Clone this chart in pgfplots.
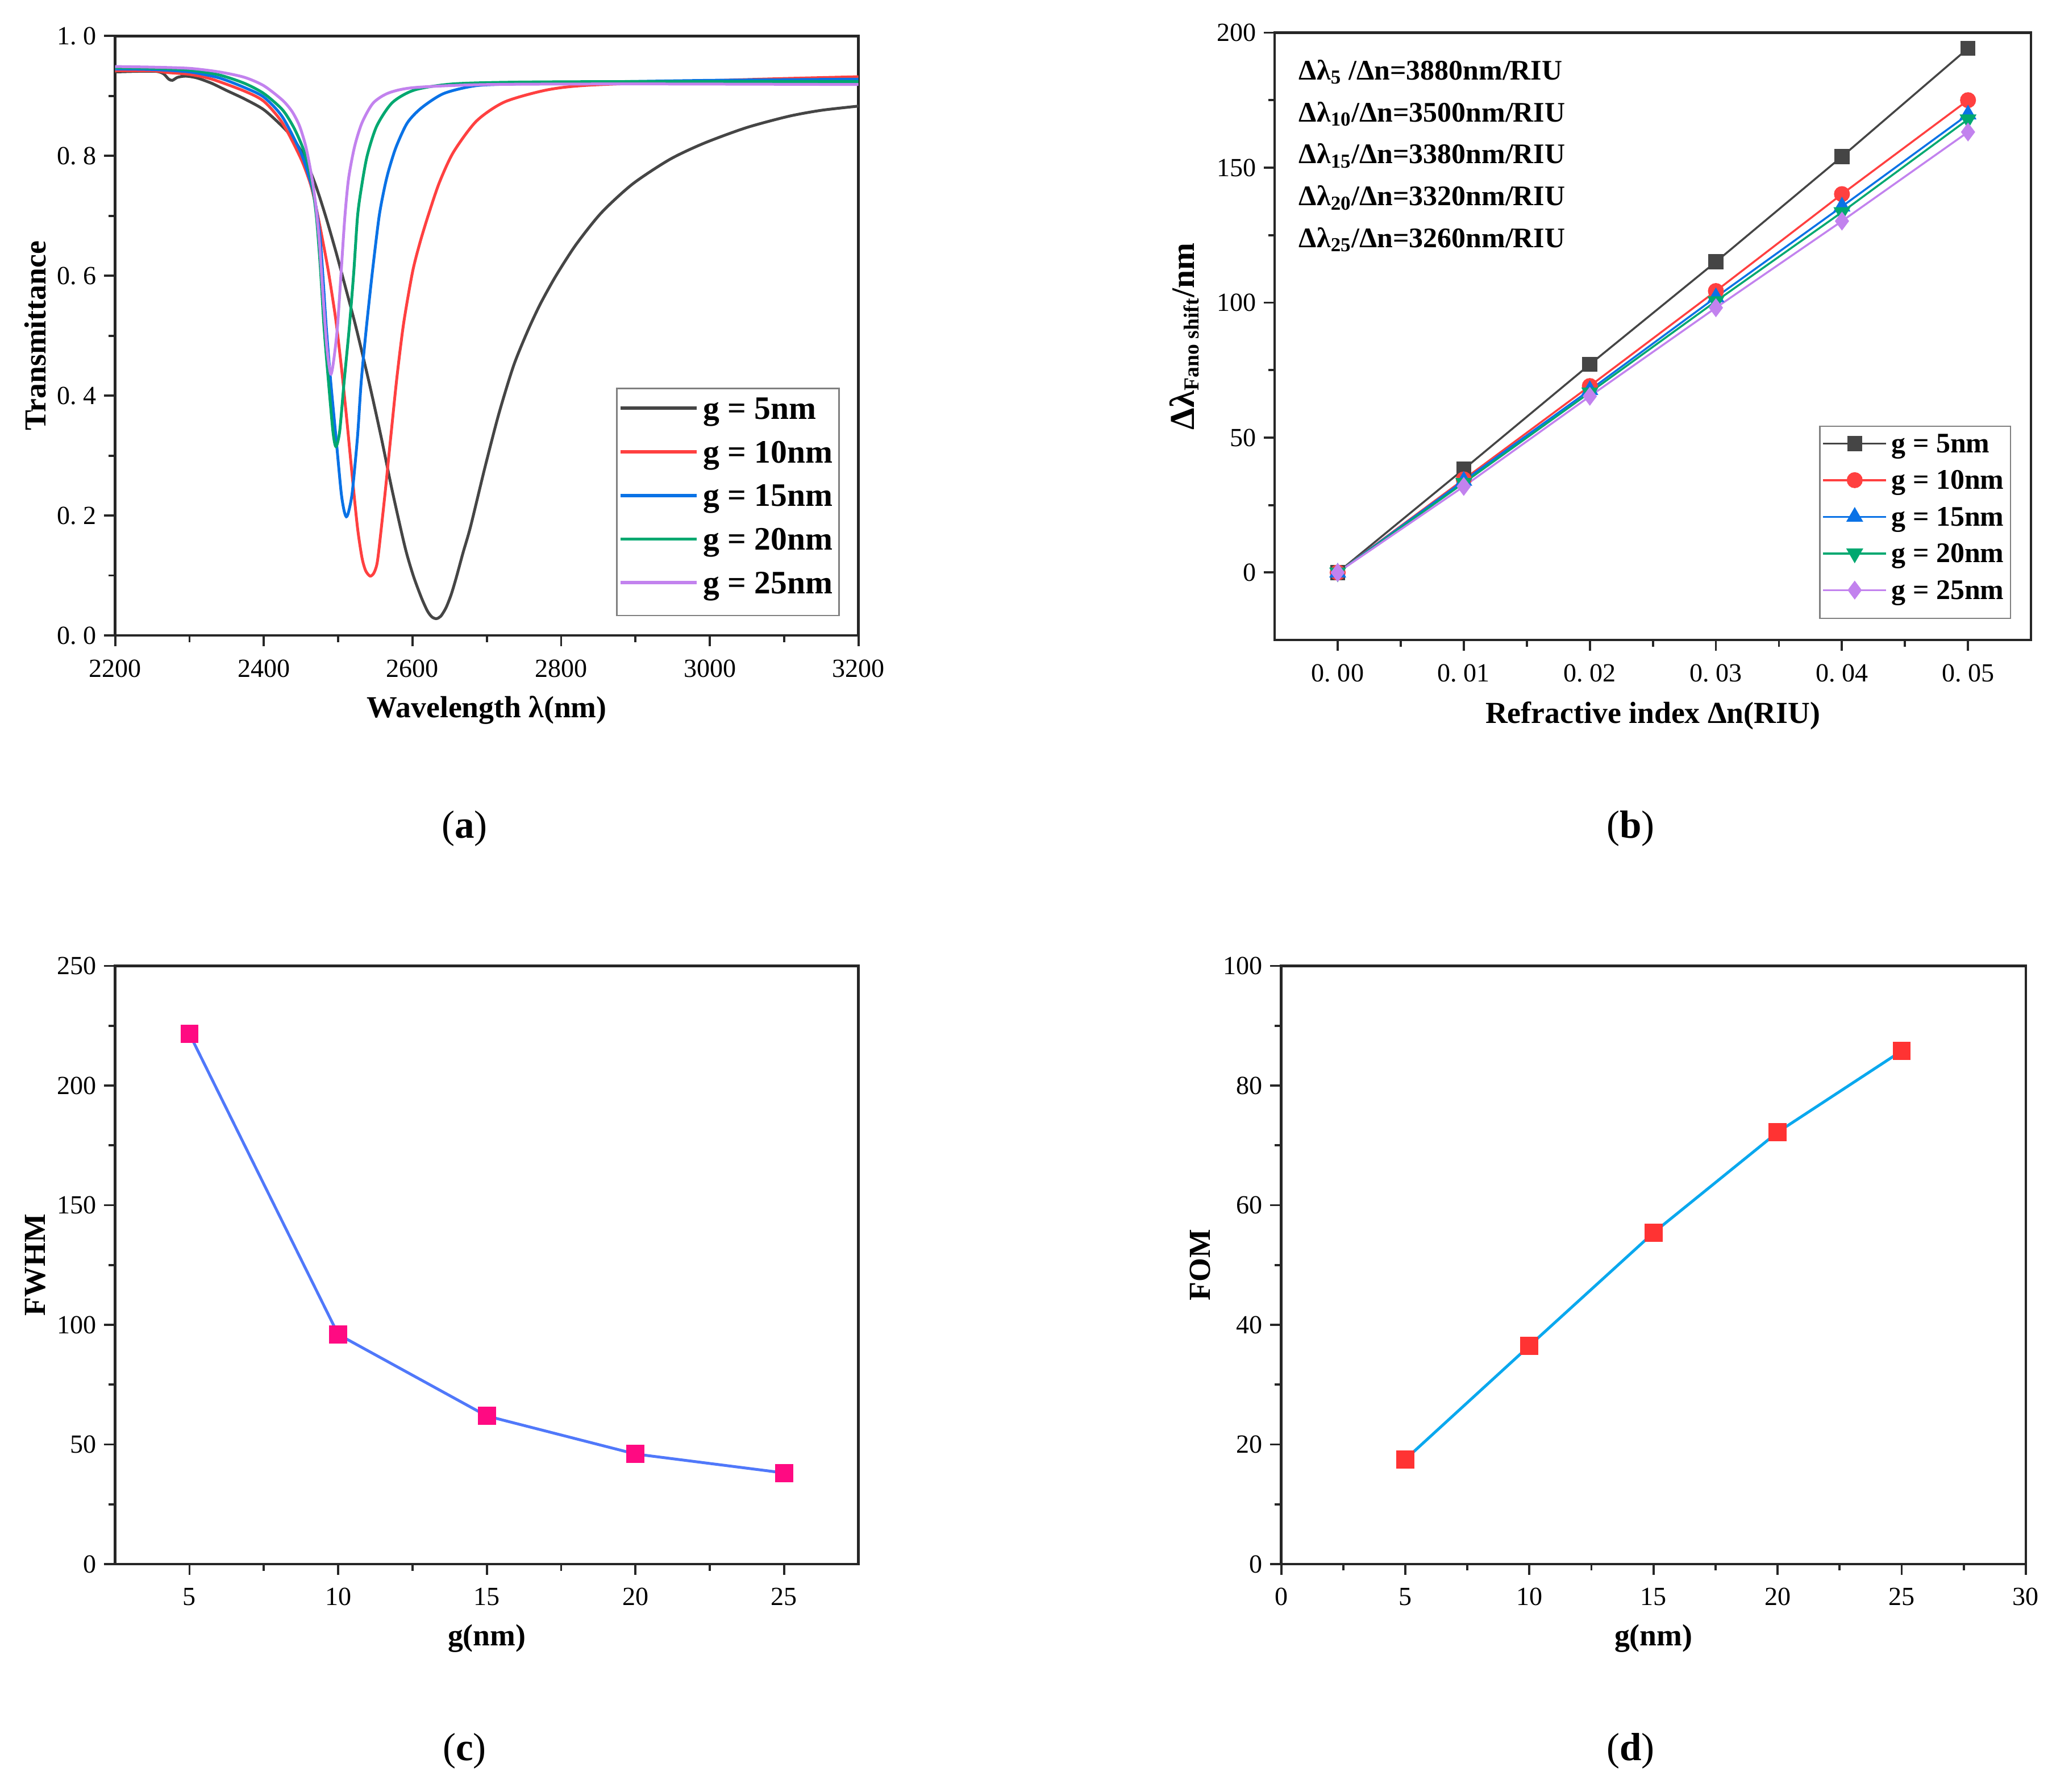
\documentclass[border=0pt]{standalone}
\usepackage{fontspec}
\setmainfont{Liberation Serif}
\usepackage{pgfplots}
\pgfplotsset{compat=1.18}
\usetikzlibrary{plotmarks}
\definecolor{cK}{HTML}{454545}
\definecolor{cR}{HTML}{FF4040}
\definecolor{cB}{HTML}{0A72E6}
\definecolor{cG}{HTML}{00A870}
\definecolor{cP}{HTML}{C282EE}
\definecolor{cBl}{HTML}{5078FA}
\definecolor{cMg}{HTML}{FF0A82}
\definecolor{cCy}{HTML}{0AA8EE}
\definecolor{cRd}{HTML}{FF3333}
\pgfplotsset{myax/.style={scale only axis, anchor=south west,
  axis line style={line width=1.2pt, color=black!85},
  every tick/.style={line width=1pt, color=black!85},
  major tick length=5pt, minor tick length=3pt, tick align=outside, tick pos=left,
  minor x tick num=1, minor y tick num=1,
  ticklabel style={font=\fontsize{12}{14}\selectfont},
  xticklabel style={yshift=-2.5pt},
  label style={font=\bfseries\fontsize{14}{16}\selectfont},
  /pgf/number format/assume math mode=true, /pgf/number format/1000 sep={},
  scaled ticks=false}}
\begin{document}
\begin{tikzpicture}
\path[use as bounding box] (0,0) rectangle (940.8pt,821.4pt);
% ---------------- (a)
\begin{axis}[myax, at={(52.8pt,530.1pt)}, width=340.8pt, height=274.8pt,
  xmin=2200, xmax=3200, ymin=0, ymax=1,
  xtick={2200,2400,...,3200},
  ytick={0,0.2,0.4,0.6,0.8,1.0},
  yticklabels={0.\kern0.25em0,0.\kern0.25em2,0.\kern0.25em4,0.\kern0.25em6,0.\kern0.25em8,1.\kern0.25em0},
  xlabel={Wavelength λ(nm)}, ylabel={Transmittance},
  xlabel style={at={(axis description cs:0.5,-0.1245)}, anchor=center},
  ylabel style={at={(axis description cs:-0.1074,0.5)}, anchor=center},
  legend cell align=left,
  legend style={at={(0.674,0.413)}, anchor=north west, draw=gray, line width=0.6pt,
    inner xsep=1pt, inner ysep=2pt, row sep=0pt,
    font=\bfseries\fontsize{15}{17}\selectfont,
    nodes={inner xsep=2pt, inner ysep=0pt, text height=12pt, text depth=8pt}},
  legend image code/.code={\draw[#1, line width=1.5pt] (0pt,3pt) -- (35pt,3pt);},
  every axis plot/.append style={line width=1.3pt, smooth, tension=0.45}]
\addplot[cK] coordinates {(2200,.940)(2230,.941)(2255,.941)(2265,.937)(2272,.928)(2277,.926)(2284,.931)(2295,.933)(2310,.930)(2330,.921)(2350,.909)(2374,.895)(2400,.877)(2425,.849)(2440,.828)(2455,.797)(2470,.750)(2483,.700)(2497,.640)(2510,.580)(2524,.514)(2542,.420)(2558,.330)(2573,.240)(2590,.147)(2601,.100)(2612,.063)(2620,.041)(2626,.031)(2632,.028)(2638,.032)(2645,.046)(2652,.068)(2659,.097)(2668,.138)(2678,.181)(2697,.278)(2716,.369)(2736,.450)(2755,.508)(2772,.553)(2793,.600)(2820,.652)(2854,.705)(2896,.753)(2946,.794)(2992,.821)(3049,.847)(3106,.866)(3150,.876)(3200,.883)};
\addlegendentry{g = 5nm}
\addplot[cR] coordinates {(2200,.942)(2250,.942)(2270,.939)(2300,.936)(2330,.928)(2374,.908)(2400,.891)(2425,.855)(2450,.795)(2463,.752)(2471,.710)(2479,.660)(2487,.606)(2497,.525)(2505,.44)(2512,.355)(2519,.265)(2526,.18)(2532,.13)(2537,.108)(2543,.099)(2548,.104)(2552,.118)(2555,.145)(2563,.236)(2571,.334)(2579,.430)(2588,.520)(2600,.606)(2610,.655)(2621,.70)(2636,.755)(2655,.806)(2686,.858)(2724,.890)(2781,.910)(2839,.918)(2992,.925)(3100,.929)(3200,.932)};
\addlegendentry{g = 10nm}
\addplot[cB] coordinates {(2200,.945)(2250,.944)(2300,.940)(2340,.930)(2374,.914)(2400,.898)(2425,.865)(2450,.805)(2463,.756)(2468,.73)(2472,.70)(2476,.66)(2480,.59)(2484,.514)(2490,.423)(2497,.331)(2504,.239)(2508,.208)(2511,.198)(2514,.206)(2519,.239)(2526,.331)(2531,.423)(2538,.514)(2546,.606)(2555,.698)(2562,.745)(2568,.776)(2578,.815)(2593,.855)(2612,.880)(2642,.904)(2685,.917)(2741,.920)(2850,.923)(3000,.926)(3200,.928)};
\addlegendentry{g = 15nm}
\addplot[cG] coordinates {(2200,.947)(2250,.946)(2300,.943)(2340,.935)(2374,.921)(2400,.904)(2425,.877)(2440,.848)(2452,.815)(2460,.782)(2466,.745)(2471,.695)(2476,.615)(2481,.514)(2487,.423)(2493,.340)(2497,.315)(2502,.340)(2508,.423)(2515,.514)(2521,.606)(2526,.698)(2531,.745)(2539,.800)(2552,.850)(2573,.889)(2603,.910)(2654,.920)(2741,.923)(2900,.924)(3200,.924)};
\addlegendentry{g = 20nm}
\addplot[cP] coordinates {(2200,.949)(2250,.948)(2300,.946)(2340,.940)(2374,.931)(2400,.917)(2425,.893)(2438,.874)(2448,.850)(2456,.818)(2462,.782)(2467,.745)(2471,.705)(2475,.652)(2480,.560)(2485,.478)(2490,.436)(2494,.459)(2499,.514)(2504,.606)(2509,.698)(2514,.762)(2522,.815)(2532,.855)(2547,.888)(2568,.905)(2603,.914)(2700,.919)(2900,.920)(3200,.919)};
\addlegendentry{g = 25nm}
\end{axis}
% ---------------- (b)
\begin{axis}[myax, at={(584.4pt,528.0pt)}, width=346.8pt, height=278.4pt,
  xmin=-0.005, xmax=0.055, ymin=-25, ymax=200,
  xtick={0,0.01,0.02,0.03,0.04,0.05},
  xticklabels={0.\kern0.25em00,0.\kern0.25em01,0.\kern0.25em02,0.\kern0.25em03,0.\kern0.25em04,0.\kern0.25em05},
  ytick={0,50,100,150,200},
  xlabel={Refractive index Δn(RIU)}, ylabel={{\fontsize{16}{18}\selectfont Δλ}\textsubscript{Fano shift}{\fontsize{15}{18}\selectfont /nm}},
  xlabel style={at={(axis description cs:0.5,-0.125)}, anchor=center},
  ylabel style={at={(axis description cs:-0.1194,0.5)}, anchor=center},
  legend cell align=left,
  legend style={at={(0.720,0.353)}, anchor=north west, draw=gray, line width=0.6pt,
    inner xsep=1pt, inner ysep=2pt, row sep=0pt,
    font=\bfseries\fontsize{13}{15}\selectfont,
    nodes={inner xsep=2pt, inner ysep=0pt, text height=10pt, text depth=6.8pt}},
  legend image code/.code={\draw[mark repeat=2,mark phase=2,#1] plot coordinates {(0pt,2.5pt) (14.5pt,2.5pt) (29pt,2.5pt)};},
  every axis plot/.append style={line width=0.9pt}]
\addplot[cK, mark=square*, mark size=3pt] coordinates {(0,0)(0.01,38.3)(0.02,77.1)(0.03,115.1)(0.04,154.1)(0.05,194.2)};
\addlegendentry{g = 5nm}
\addplot[cR, mark=*, mark size=3.2pt] coordinates {(0,0)(0.01,34.5)(0.02,69.1)(0.03,104.3)(0.04,140.2)(0.05,175)};
\addlegendentry{g = 10nm}
\addplot[cB, mark=triangle*, mark size=3.6pt] coordinates {(0,0)(0.01,34)(0.02,67.6)(0.03,102)(0.04,135.6)(0.05,169.7)};
\addlegendentry{g = 15nm}
\addplot[cG, mark=triangle*, mark size=3.6pt, mark options={rotate=180}] coordinates {(0,0)(0.01,33.2)(0.02,66.7)(0.03,100.5)(0.04,133.5)(0.05,167.9)};
\addlegendentry{g = 20nm}
\addplot[cP, mark=diamond*, mark size=3.6pt] coordinates {(0,0)(0.01,31.9)(0.02,65.3)(0.03,98.1)(0.04,130.2)(0.05,163.2)};
\addlegendentry{g = 25nm}
\begin{scope}[every node/.style={anchor=west, font=\bfseries\fontsize{13}{15}\selectfont, inner sep=0pt}]
\node at (axis cs:-0.0031,185.4) {Δλ\textsubscript{5} /Δn=3880nm/RIU};
\node at (axis cs:-0.0031,169.9) {Δλ\textsubscript{10}/Δn=3500nm/RIU};
\node at (axis cs:-0.0031,154.4) {Δλ\textsubscript{15}/Δn=3380nm/RIU};
\node at (axis cs:-0.0031,138.8) {Δλ\textsubscript{20}/Δn=3320nm/RIU};
\node at (axis cs:-0.0031,123.3) {Δλ\textsubscript{25}/Δn=3260nm/RIU};
\end{scope}
\end{axis}
% ---------------- (c)
\begin{axis}[myax, at={(52.8pt,104.4pt)}, width=340.8pt, height=274.2pt,
  xmin=2.5, xmax=27.5, ymin=0, ymax=250,
  xtick={5,10,...,25}, ytick={0,50,...,250},
  xlabel={g(nm)}, ylabel={FWHM},
  xlabel style={at={(axis description cs:0.5,-0.1247)}, anchor=center},
  ylabel style={at={(axis description cs:-0.1074,0.5)}, anchor=center}]
\addplot[cBl, line width=1.3pt, mark=square*, mark size=3.5pt, mark options={cMg, fill=cMg}] coordinates {(5,221.6)(10,96)(15,61.9)(20,46)(25,38.1)};
\end{axis}
% ---------------- (d)
\begin{axis}[myax, at={(587.4pt,104.4pt)}, width=341.4pt, height=274.2pt,
  xmin=0, xmax=30, ymin=0, ymax=100,
  xtick={0,5,...,30}, ytick={0,20,...,100},
  xlabel={g(nm)}, ylabel={FOM},
  xlabel style={at={(axis description cs:0.5,-0.1247)}, anchor=center},
  ylabel style={at={(axis description cs:-0.109,0.5)}, anchor=center}]
\addplot[cCy, line width=1.3pt, mark=square*, mark size=3.5pt, mark options={cRd, fill=cRd}] coordinates {(5,17.5)(10,36.5)(15,55.4)(20,72.2)(25,85.8)};
\end{axis}
% panel labels
\begin{scope}[every node/.style={font=\fontsize{18}{20}\selectfont}]
\node at (213pt,441.6pt) {(\textbf{a})};
\node at (747.6pt,441.6pt) {(\textbf{b})};
\node at (213pt,18.6pt) {(\textbf{c})};
\node at (747.6pt,18.6pt) {(\textbf{d})};
\end{scope}
\end{tikzpicture}
\end{document}
